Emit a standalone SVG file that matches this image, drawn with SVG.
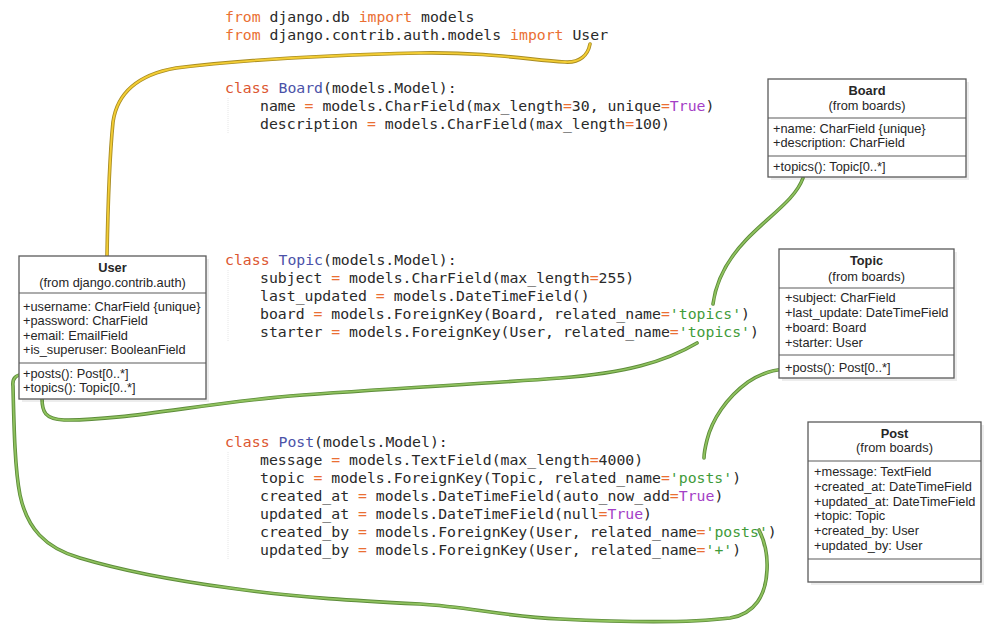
<svg xmlns="http://www.w3.org/2000/svg" width="995" height="638" viewBox="0 0 995 638">
  <style>
    .code { font-family: "DejaVu Sans Mono", "Liberation Mono", monospace; font-size: 14.8px; fill: #2a2a2a; white-space: pre; }
    .kw { fill: #ea6f33; }
    .cl { fill: #dc5630; }
    .cn { fill: #4b52a8; }
    .op { fill: #ea6f33; }
    .tr { fill: #a43fc6; }
    .st { fill: #3f9b3a; }
    .guide { stroke: #e6e6e6; stroke-width: 1; stroke-dasharray: 1 1; }
    .box { fill: #ffffff; stroke: #5a5a5a; stroke-width: 1.3; }
    .shadow { fill: #000000; opacity: 0.07; }
    .div { stroke: #5a5a5a; stroke-width: 1.2; }
    .uml { font-family: "Liberation Sans", Arial, sans-serif; font-size: 12.8px; fill: #262626; }
    .ttl { font-weight: bold; text-anchor: middle; }
    .sub { text-anchor: middle; }
    .edge { fill: none; stroke-linecap: round; stroke-linejoin: round; }
    .g-out { stroke: #5d8c3a; stroke-width: 3.6; }
    .g-in { stroke: #8fc25e; stroke-width: 1.8; }
    .y-out { stroke: #a88c22; stroke-width: 3.6; }
    .y-in { stroke: #f3cd34; stroke-width: 1.8; }
  </style>

  <!-- Python source of the models -->
  <g id="code">
    <line class="guide" x1="228" y1="98" x2="228" y2="133"/>
    <line class="guide" x1="228" y1="270" x2="228" y2="341"/>
    <line class="guide" x1="228" y1="452" x2="228" y2="559"/>

    <text class="code" x="225" y="22"><tspan class="kw">from</tspan> django.db <tspan class="kw">import</tspan> models</text>
    <text class="code" x="225" y="40"><tspan class="kw">from</tspan> django.contrib.auth.models <tspan class="kw">import</tspan> User</text>

    <text class="code" x="225" y="93"><tspan class="cl">class</tspan> <tspan class="cn">Board</tspan>(models.Model):</text>
    <text class="code" x="260" y="111">name <tspan class="op">=</tspan> models.CharField(max_length<tspan class="op">=</tspan>30, unique<tspan class="op">=</tspan><tspan class="tr">True</tspan>)</text>
    <text class="code" x="260" y="129">description <tspan class="op">=</tspan> models.CharField(max_length<tspan class="op">=</tspan>100)</text>

    <text class="code" x="225" y="265"><tspan class="cl">class</tspan> <tspan class="cn">Topic</tspan>(models.Model):</text>
    <text class="code" x="260" y="283">subject <tspan class="op">=</tspan> models.CharField(max_length<tspan class="op">=</tspan>255)</text>
    <text class="code" x="260" y="301">last_updated <tspan class="op">=</tspan> models.DateTimeField()</text>
    <text class="code" x="260" y="319">board <tspan class="op">=</tspan> models.ForeignKey(Board, related_name<tspan class="op">=</tspan><tspan class="st">'topics'</tspan>)</text>
    <text class="code" x="260" y="337">starter <tspan class="op">=</tspan> models.ForeignKey(User, related_name<tspan class="op">=</tspan><tspan class="st">'topics'</tspan>)</text>

    <text class="code" x="225" y="447"><tspan class="cl">class</tspan> <tspan class="cn">Post</tspan>(models.Model):</text>
    <text class="code" x="260" y="465">message <tspan class="op">=</tspan> models.TextField(max_length<tspan class="op">=</tspan>4000)</text>
    <text class="code" x="260" y="483">topic <tspan class="op">=</tspan> models.ForeignKey(Topic, related_name<tspan class="op">=</tspan><tspan class="st">'posts'</tspan>)</text>
    <text class="code" x="260" y="501">created_at <tspan class="op">=</tspan> models.DateTimeField(auto_now_add<tspan class="op">=</tspan><tspan class="tr">True</tspan>)</text>
    <text class="code" x="260" y="519">updated_at <tspan class="op">=</tspan> models.DateTimeField(null<tspan class="op">=</tspan><tspan class="tr">True</tspan>)</text>
    <text class="code" x="260" y="537">created_by <tspan class="op">=</tspan> models.ForeignKey(User, related_name<tspan class="op">=</tspan><tspan class="st">'posts'</tspan>)</text>
    <text class="code" x="260" y="555">updated_by <tspan class="op">=</tspan> models.ForeignKey(User, related_name<tspan class="op">=</tspan><tspan class="st">'+'</tspan>)</text>
  </g>

  <!-- Hand-drawn links between the classes and the code -->
  <g id="connectors" class="edge">
    <!-- User import -> User class -->
    <path class="y-out" d="M107,256 C108,200 110,152 113,122 C117,94 136,75 176,68 C240,60 330,55 420,53 C490,52 530,60 565,62 C580,63 588,55 590,44"/>
    <path class="y-in" d="M107,256 C108,200 110,152 113,122 C117,94 136,75 176,68 C240,60 330,55 420,53 C490,52 530,60 565,62 C580,63 588,55 590,44"/>
    <!-- Board.topics -> Topic.board -->
    <path class="g-out" d="M803,178 C795,200 770,215 746,240 C726,261 716,281 713,304"/>
    <path class="g-in" d="M803,178 C795,200 770,215 746,240 C726,261 716,281 713,304"/>
    <!-- User.topics -> Topic.starter -->
    <path class="g-out" d="M42,398 C42,412 45,419 64,420 C120,421 200,404 290,396 C380,389 480,384 560,378 C625,373 665,362 697,343"/>
    <path class="g-in" d="M42,398 C42,412 45,419 64,420 C120,421 200,404 290,396 C380,389 480,384 560,378 C625,373 665,362 697,343"/>
    <!-- Topic.posts -> Post.topic -->
    <path class="g-out" d="M785,369 C770,370 760,374 748,382 C726,398 712,420 707,440 C705,448 704,452 704,458"/>
    <path class="g-in" d="M785,369 C770,370 760,374 748,382 C726,398 712,420 707,440 C705,448 704,452 704,458"/>
    <!-- User.posts -> Post.created_by -->
    <path class="g-out" d="M24,374 C16,375 12,378 13,386 C14,430 15,470 20,495 C27,528 45,548 80,558 C120,570 170,580 230,588 C300,598 360,601 420,604 C470,607 500,616 560,619 C620,622 690,623 730,618 C755,614 766,595 767,570 C768,552 764,540 759,530"/>
    <path class="g-in" d="M24,374 C16,375 12,378 13,386 C14,430 15,470 20,495 C27,528 45,548 80,558 C120,570 170,580 230,588 C300,598 360,601 420,604 C470,607 500,616 560,619 C620,622 690,623 730,618 C755,614 766,595 767,570 C768,552 764,540 759,530"/>
  </g>

  <!-- UML class: Board -->
  <g id="board">
    <rect class="shadow" x="771" y="82" width="198" height="98"/>
    <rect class="box" x="768" y="79" width="198" height="98"/>
    <line class="div" x1="768" y1="118" x2="966" y2="118"/>
    <line class="div" x1="768" y1="156" x2="966" y2="156"/>
    <text class="uml ttl" x="867" y="95">Board</text>
    <text class="uml sub" x="867" y="110">(from boards)</text>
    <text class="uml" x="773" y="133">+name: CharField {unique}</text>
    <text class="uml" x="773" y="147">+description: CharField</text>
    <text class="uml" x="773" y="171">+topics(): Topic[0..*]</text>
  </g>

  <!-- UML class: User -->
  <g id="user">
    <rect class="shadow" x="22" y="259" width="187" height="143"/>
    <rect class="box" x="19" y="256" width="187" height="143"/>
    <line class="div" x1="19" y1="293" x2="206" y2="293"/>
    <line class="div" x1="19" y1="363" x2="206" y2="363"/>
    <text class="uml ttl" x="112.5" y="272">User</text>
    <text class="uml sub" x="112.5" y="287">(from django.contrib.auth)</text>
    <text class="uml" x="23" y="311">+username: CharField {unique}</text>
    <text class="uml" x="23" y="325">+password: CharField</text>
    <text class="uml" x="23" y="340">+email: EmailField</text>
    <text class="uml" x="23" y="354">+is_superuser: BooleanField</text>
    <text class="uml" x="23" y="378">+posts(): Post[0..*]</text>
    <text class="uml" x="23" y="392">+topics(): Topic[0..*]</text>
  </g>

  <!-- UML class: Topic -->
  <g id="topic">
    <rect class="shadow" x="782" y="252" width="175" height="129"/>
    <rect class="box" x="779" y="249" width="175" height="129"/>
    <line class="div" x1="779" y1="288" x2="954" y2="288"/>
    <line class="div" x1="779" y1="355" x2="954" y2="355"/>
    <text class="uml ttl" x="866.5" y="265">Topic</text>
    <text class="uml sub" x="866.5" y="281">(from boards)</text>
    <text class="uml" x="785" y="302">+subject: CharField</text>
    <text class="uml" x="785" y="317">+last_update: DateTimeField</text>
    <text class="uml" x="785" y="332">+board: Board</text>
    <text class="uml" x="785" y="347">+starter: User</text>
    <text class="uml" x="785" y="372">+posts(): Post[0..*]</text>
  </g>

  <!-- UML class: Post -->
  <g id="post">
    <rect class="shadow" x="811" y="425" width="173" height="160"/>
    <rect class="box" x="808" y="422" width="173" height="160"/>
    <line class="div" x1="808" y1="461" x2="981" y2="461"/>
    <line class="div" x1="808" y1="559" x2="981" y2="559"/>
    <text class="uml ttl" x="894.5" y="438">Post</text>
    <text class="uml sub" x="894.5" y="452">(from boards)</text>
    <text class="uml" x="814" y="476">+message: TextField</text>
    <text class="uml" x="814" y="491">+created_at: DateTimeField</text>
    <text class="uml" x="814" y="506">+updated_at: DateTimeField</text>
    <text class="uml" x="814" y="520">+topic: Topic</text>
    <text class="uml" x="814" y="535">+created_by: User</text>
    <text class="uml" x="814" y="550">+updated_by: User</text>
  </g>
</svg>
